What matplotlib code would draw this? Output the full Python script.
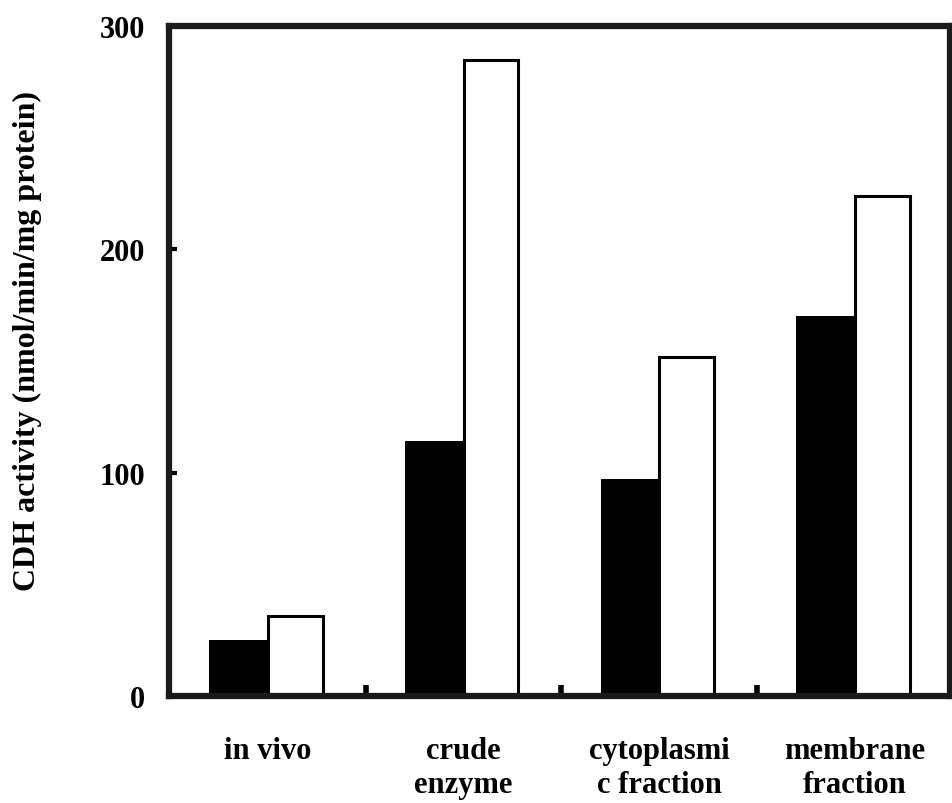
import matplotlib
matplotlib.use("Agg")
import matplotlib.pyplot as plt
import numpy as np

categories = ["in vivo", "crude\nenzyme", "cytoplasmi\nc fraction", "membrane\nfraction"]
black_values = [25, 114, 97, 170]
white_values = [36, 285, 152, 224]
y_ticks = [0, 100, 200, 300]
y_label = "CDH activity (nmol/min/mg protein)"

plt.rcParams['font.family'] = ['Liberation Serif', 'DejaVu Serif']
plt.rcParams['font.weight'] = 'bold'

fig = plt.figure(figsize=(9.52, 8.04), dpi=100)
ax = fig.add_axes([169/952, 1-697/804, 781/952, 670/804])

x = np.arange(len(categories))
ax.bar(x - 0.30, black_values, width=0.30, align='edge', color='black', edgecolor='black',
       linewidth=0, zorder=2)
ax.bar(x, white_values, width=0.28, align='edge', color='white', edgecolor='black',
       linewidth=2.2, zorder=2)

ax.set_xlim(-0.505, 3.485)
ax.set_ylim(0, 300)

for s in ax.spines.values():
    s.set_linewidth(4.5)
    s.set_color('#1a1a1a')

ax.set_yticks(y_ticks)
ax.set_yticklabels([str(v) for v in y_ticks], fontsize=22, fontweight='bold')
ax.tick_params(axis='y', direction='in', length=6, width=3, pad=17)

ax.set_xticks(x)
ax.set_xticklabels(categories, fontsize=22, fontweight='bold', linespacing=1.2)
ax.tick_params(axis='x', which='major', length=0, pad=29)
ax.set_xticks(x[:-1] + 0.5, minor=True)
ax.tick_params(axis='x', which='minor', direction='in', length=8, width=4)

fig.text(0.029, 1-341/804, y_label, rotation=90, ha='center', va='center',
         fontsize=23, fontweight='bold')

fig.savefig("out.png", dpi=100)
